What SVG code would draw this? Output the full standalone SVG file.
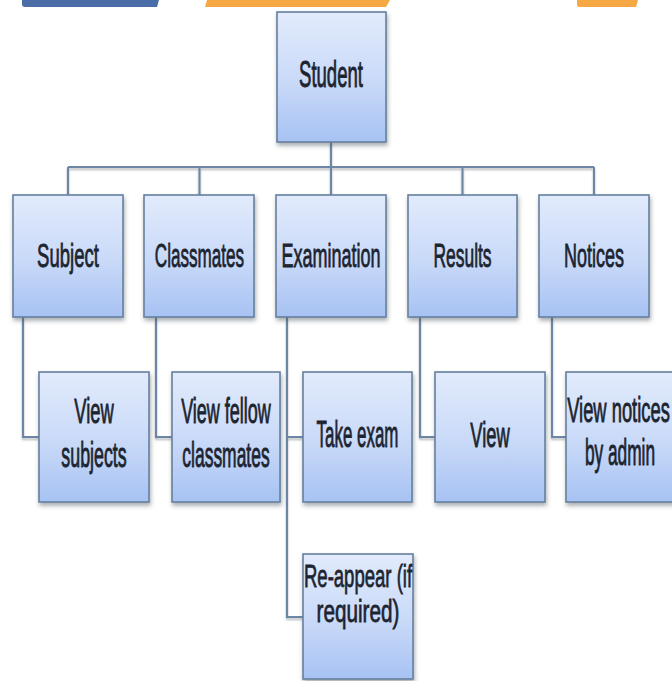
<svg xmlns="http://www.w3.org/2000/svg" width="672" height="681" viewBox="0 0 672 681">
<defs>
<linearGradient id="g" x1="0" y1="0" x2="0" y2="1">
<stop offset="0" stop-color="#e2ebfc"/>
<stop offset="0.55" stop-color="#c8d9f8"/>
<stop offset="1" stop-color="#a7c2f3"/>
</linearGradient>
<filter id="sh" x="-10%" y="-10%" width="125%" height="130%">
<feDropShadow dx="1" dy="3" stdDeviation="2" flood-color="#404a55" flood-opacity="0.45"/>
</filter>
<filter id="lsh" x="-5%" y="-50%" width="110%" height="200%">
<feDropShadow dx="0" dy="2" stdDeviation="1" flood-color="#404a55" flood-opacity="0.4"/>
</filter>
</defs>
<style>
.box{fill:url(#g);stroke:#66809e;stroke-width:1.6;filter:url(#sh)}
.lbl{font-family:"Liberation Sans",Arial,sans-serif;font-size:18px;fill:#1c2430;stroke:#1c2430;stroke-width:0.45;text-anchor:middle}
.con{fill:none;stroke:#6d86a5;stroke-width:2}
</style>
<rect width="672" height="681" fill="#ffffff"/>
<g id="banner">
<path d="M22,0 H159 L157,7 H25 Q22,7 22,4 Z" fill="#4a6da7"/>
<path d="M207,0 H390 L386,7 H205 Z" fill="#f5a843"/>
<path d="M577,0 H638 L636,7 H579 Q577,7 577,5 Z" fill="#f5a843"/>
</g>
<g id="connectors" filter="url(#lsh)">
<path class="con" d="M331,142 V167"/>
<path class="con" d="M68,167 H594"/>
<path class="con" d="M68,167 V195 M199.5,167 V195 M331,167 V195 M462.5,167 V195 M594,167 V195"/>
<path class="con" d="M23,317 V437 H39"/>
<path class="con" d="M156,317 V437 H172"/>
<path class="con" d="M287,317 V617 H303 M287,437 H303"/>
<path class="con" d="M420,317 V437 H435"/>
<path class="con" d="M552,317 V437 H566"/>
</g>
<g id="student">
<rect class="box" x="277" y="12" width="109" height="130"/>
<text class="lbl" transform="translate(331,87) scale(1.03,2.05)">Student</text>
</g>
<g id="subject">
<rect class="box" x="13" y="195" width="110" height="122"/>
<text class="lbl" transform="translate(68,267) scale(1.03,1.85)">Subject</text>
</g>
<g id="classmates">
<rect class="box" x="144" y="195" width="110" height="122"/>
<text class="lbl" transform="translate(199.5,267) scale(0.95,1.85)">Classmates</text>
</g>
<g id="examination">
<rect class="box" x="276" y="195" width="110" height="122"/>
<text class="lbl" transform="translate(331,267) scale(1.0,1.85)">Examination</text>
</g>
<g id="results">
<rect class="box" x="408" y="195" width="109" height="122"/>
<text class="lbl" transform="translate(462.5,267) scale(0.97,1.85)">Results</text>
</g>
<g id="notices">
<rect class="box" x="539" y="195" width="110" height="122"/>
<text class="lbl" transform="translate(594,267) scale(1.0,1.85)">Notices</text>
</g>
<g id="view-subjects">
<rect class="box" x="39" y="372" width="110" height="130"/>
<text class="lbl" transform="translate(94,423) scale(1.02,2.0)">View</text>
<text class="lbl" transform="translate(94,467) scale(0.99,2.0)">subjects</text>
</g>
<g id="view-fellow-classmates">
<rect class="box" x="172" y="372" width="108" height="130"/>
<text class="lbl" transform="translate(226,423) scale(1.0,2.0)">View fellow</text>
<text class="lbl" transform="translate(226,467) scale(0.97,2.0)">classmates</text>
</g>
<g id="take-exam">
<rect class="box" x="303" y="372" width="109" height="130"/>
<text class="lbl" transform="translate(357.5,447) scale(0.94,2.0)">Take exam</text>
</g>
<g id="reappear">
<rect class="box" x="303" y="554" width="110" height="125"/>
<text class="lbl" transform="translate(358,587) scale(1.03,1.7)">Re-appear (if</text>
<text class="lbl" transform="translate(358,622) scale(1.15,1.7)">required)</text>
</g>
<g id="view-results">
<rect class="box" x="435" y="372" width="110" height="130"/>
<text class="lbl" transform="translate(490,447) scale(1.02,2.0)">View</text>
</g>
<g id="view-notices">
<rect class="box" x="566" y="372" width="110" height="130"/>
<text class="lbl" transform="translate(618.5,422) scale(1.02,2.0)">View notices</text>
<text class="lbl" transform="translate(620,465) scale(0.96,2.0)">by admin</text>
</g>
</svg>
